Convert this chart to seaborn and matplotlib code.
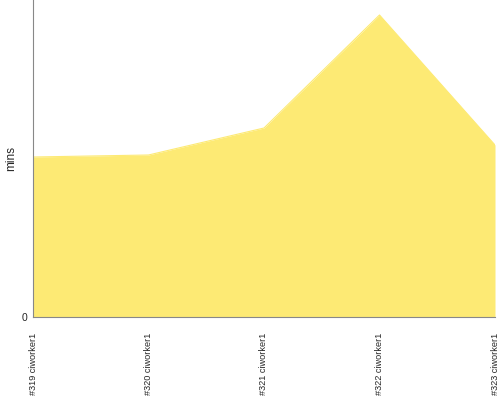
import pandas as pd
import numpy as np
import matplotlib.pyplot as plt
import seaborn as sns

# builds and their durations (mins)
builds = ['#319 ciworker1', '#320 ciworker1', '#321 ciworker1', '#322 ciworker1', '#323 ciworker1']
mins = [160, 162, 189, 302, 172]
y_top = 317

df = pd.DataFrame({'build': builds, 'mins': mins})
df['pos'] = np.arange(len(df))

sns.set_theme(style='white')
plt.rcParams['font.family'] = ['Liberation Sans', 'DejaVu Sans']

fig = plt.figure(figsize=(5, 4), dpi=100)
ax = fig.add_axes([0.066, 0.2075, 0.924, 0.7925])

fill_color = '#fdea74'
sns.lineplot(data=df, x='pos', y='mins', color=fill_color, linewidth=0.8, ax=ax)
ax.fill_between(df['pos'], df['mins'], color=fill_color, linewidth=0)

ax.set_xlim(0, len(df) - 1)
ax.set_ylim(0, y_top)
ax.set_xticks(df['pos'])
ax.set_xticklabels(df['build'], rotation=90, fontsize=6.6)
ax.set_yticks([0])
ax.set_yticklabels(['0'], fontsize=7.5)
ax.tick_params(axis='y', length=3, color='#888888', pad=1)
ax.tick_params(axis='x', length=0, pad=11)
ax.set_xlabel('')
ax.set_ylabel('mins', fontsize=8.5)
ax.yaxis.set_label_coords(-0.035, 0.5)

for side in ['top', 'right']:
    ax.spines[side].set_visible(False)
for side in ['left', 'bottom']:
    ax.spines[side].set_color('#888888')
    ax.spines[side].set_linewidth(0.8)

fig.savefig('out.png', dpi=100)
